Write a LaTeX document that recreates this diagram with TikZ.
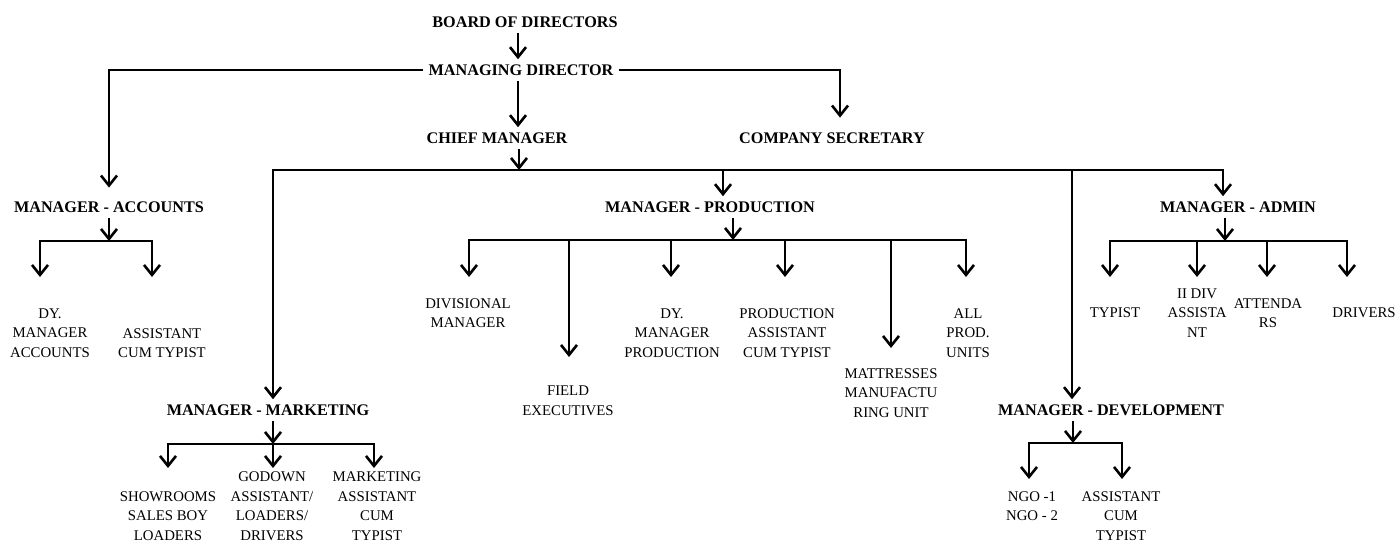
\documentclass[tikz,border=0pt]{standalone}
\usepackage{fontspec}
\setmainfont{Liberation Serif}
\usetikzlibrary{arrows.meta}
\tikzset{
    head/.style={font=\fontsize{8.1}{9.7}\selectfont\bfseries,inner xsep=2.5pt,inner ysep=2.5pt,text height=5.4pt,text depth=0pt},
    staff/.style={font=\fontsize{7.4}{9.75}\selectfont,align=center,inner sep=0pt},
    pre/.style={-{Straight Barb[length=5pt,width=8pt]},line width=1.3pt,line join=miter},
    bi/.style={-,line width=1.3pt,line join=miter}
}

\begin{document}
\begin{tikzpicture}[x=0.5pt,y=-0.5pt]
\useasboundingbox (0,0) rectangle (1395,542);

                % top of the chart
                \node[head] (board)     at (525,22)   {BOARD OF DIRECTORS};
                \node[head] (md)        at (521,70)   {MANAGING DIRECTOR};
                \node[head] (chief)     at (497,138)  {CHIEF MANAGER};
                \node[head] (secretary) at (832,138)  {COMPANY SECRETARY};

                % managers
                \node[head] (mgr acc)  at (109,207)  {MANAGER - ACCOUNTS};
                \node[head] (mgr prod) at (710,207)  {MANAGER - PRODUCTION};
                \node[head] (mgr adm)  at (1238,207) {MANAGER - ADMIN};
                \node[head] (mgr mkt)  at (268,410)  {MANAGER - MARKETING};
                \node[head] (mgr dev)  at (1111,410) {MANAGER - DEVELOPMENT};

                % staff
                \node[staff] (acc 1)  at (50,333)   {DY.\\MANAGER\\ACCOUNTS};
                \node[staff] (acc 2)  at (162,343)  {ASSISTANT\\CUM TYPIST};
                \node[staff] (prod 1) at (468,313)  {DIVISIONAL\\MANAGER};
                \node[staff] (prod 2) at (568,401)  {FIELD\\EXECUTIVES};
                \node[staff] (prod 3) at (672,333)  {DY.\\MANAGER\\PRODUCTION};
                \node[staff] (prod 4) at (787,333)  {PRODUCTION\\ASSISTANT\\CUM TYPIST};
                \node[staff] (prod 5) at (891,393)  {MATTRESSES\\MANUFACTU\\RING UNIT};
                \node[staff] (prod 6) at (968,333)  {ALL\\PROD.\\UNITS};
                \node[staff] (adm 1)  at (1115,313) {TYPIST};
                \node[staff] (adm 2)  at (1197,313) {II DIV\\ASSISTA\\NT};
                \node[staff] (adm 3)  at (1268,313) {ATTENDA\\RS};
                \node[staff] (adm 4)  at (1364,313) {DRIVERS};
                \node[staff] (mkt 1)  at (168,516)  {SHOWROOMS\\SALES BOY\\LOADERS};
                \node[staff] (mkt 2)  at (272,506)  {GODOWN\\ASSISTANT/\\LOADERS/\\DRIVERS};
                \node[staff] (mkt 3)  at (377,506)  {MARKETING\\ASSISTANT\\CUM\\TYPIST};
                \node[staff] (dev 1)  at (1032,506) {NGO -1\\NGO - 2};
                \node[staff] (dev 2)  at (1121,516) {ASSISTANT\\CUM\\TYPIST};

                % board and managing director
                \coordinate (spine) at (518,0);
                \draw[pre] (board.south -| spine) -- (md.north -| spine);
                \draw[pre] (md.south -| spine) -- (chief.north -| spine);
                \draw[pre,shorten >=4.3pt] (md.west) -| (mgr acc.north);
                \draw[pre,shorten >=4.8pt] (md.east) -| ([xshift=4pt]secretary.north);

                % chief manager bus
                \coordinate (cm bus)    at (519,170);
                \coordinate (mkt drop)  at (273,170);
                \coordinate (prod drop) at (723,170);
                \coordinate (dev drop)  at (1072,170);
                \coordinate (adm drop)  at (1223,170);
                \draw[pre] (chief.south -| cm bus) -- (cm bus);
                \draw[pre] (prod drop) -- (mkt drop) -- (mgr mkt.north -| mkt drop);
                \draw[pre] (prod drop) -- (adm drop) -- (mgr adm.north -| adm drop);
                \draw[pre] (prod drop) -- (mgr prod.north -| prod drop);
                \draw[pre] (dev drop) -- (mgr dev.north -| dev drop);

                % accounts
                \coordinate (acc bus)   at (109,241);
                \coordinate (acc 1 end) at (40,277);
                \coordinate (acc 2 end) at (152,277);
                \draw[pre] (mgr acc.south) -- (acc bus);
                \draw[pre] (acc bus) -| (acc 1 end);
                \draw[pre] (acc bus) -| (acc 2 end);

                % production
                \coordinate (prod bus)   at (733,240);
                \coordinate (prod 1 end) at (469,277);
                \coordinate (prod 2 end) at (569,357);
                \coordinate (prod 3 end) at (671,277);
                \coordinate (prod 4 end) at (785,277);
                \coordinate (prod 5 end) at (891,348);
                \coordinate (prod 6 end) at (966,277);
                \draw[pre] (mgr prod.south -| prod bus) -- (prod bus);
                \draw[pre] (prod bus) -| (prod 1 end);
                \draw[pre] (prod bus) -| (prod 2 end);
                \draw[pre] (prod bus) -| (prod 3 end);
                \draw[pre] (prod bus) -| (prod 4 end);
                \draw[pre] (prod bus) -| (prod 5 end);
                \draw[pre] (prod bus) -| (prod 6 end);

                % admin
                \coordinate (adm bus)   at (1225,241);
                \coordinate (adm 1 end) at (1110,277);
                \coordinate (adm 2 end) at (1197,277);
                \coordinate (adm 3 end) at (1267,277);
                \coordinate (adm 4 end) at (1347,277);
                \draw[pre] (mgr adm.south -| adm bus) -- (adm bus);
                \draw[pre] (adm bus) -| (adm 1 end);
                \draw[pre] (adm bus) -| (adm 2 end);
                \draw[pre] (adm bus) -| (adm 3 end);
                \draw[pre] (adm bus) -| (adm 4 end);

                % marketing
                \coordinate (mkt bus)   at (273,444);
                \coordinate (mkt 1 end) at (168,468);
                \coordinate (mkt 2 end) at (273,468);
                \coordinate (mkt 3 end) at (374,468);
                \draw[pre] (mgr mkt.south -| mkt bus) -- (mkt bus);
                \draw[pre] (mkt bus) -| (mkt 1 end);
                \draw[pre] (mkt bus) -- (mkt 2 end);
                \draw[pre] (mkt bus) -| (mkt 3 end);

                % development
                \coordinate (dev bus)   at (1073,443);
                \coordinate (dev 1 end) at (1029,479);
                \coordinate (dev 2 end) at (1122,479);
                \draw[pre] (mgr dev.south -| dev bus) -- (dev bus);
                \draw[pre] (dev bus) -| (dev 1 end);
                \draw[pre] (dev bus) -| (dev 2 end);

\end{tikzpicture}
\end{document}
